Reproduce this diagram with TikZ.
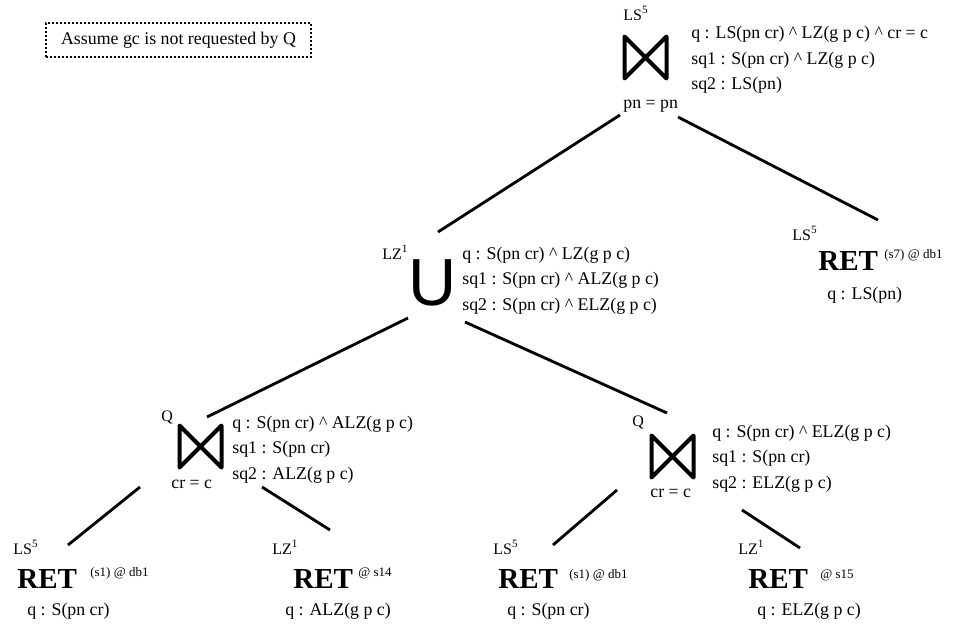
\documentclass[tikz,border=0pt]{standalone}
\usepackage{fontspec}
\setmainfont{Liberation Serif}
\newfontfamily\unionfont{Liberation Sans}
\usetikzlibrary{calc}
\newcommand{\AndOp}{\textasciicircum}
\newcommand{\LS}{LS\textsuperscript{5}}
\newcommand{\LZ}{LZ\textsuperscript{1}}
\tikzset{
  branch/.style   ={line width=1.7pt},
  bowtie/.style   ={minimum width=25.2pt,minimum height=25.2pt,inner sep=0pt,outer sep=0pt},
  tiestroke/.style={line width=2.4pt,line join=round},
  lbl/.style      ={font=\fontsize{10.7}{15.3}\selectfont,inner sep=0pt,anchor=base west,align=left},
  optag/.style    ={font=\fontsize{9.6}{11}\selectfont,inner sep=0pt,anchor=base west},
  retbox/.style   ={font=\fontsize{17.4}{20}\selectfont\bfseries,inner sep=0pt,anchor=base west},
  sitelbl/.style  ={font=\fontsize{7.8}{9}\selectfont,inner sep=0pt,anchor=base west},
  note/.style     ={draw,line width=1.1pt,dash pattern=on 1.2pt off 1.2pt,minimum width=159pt,
                    minimum height=20.4pt,inner sep=0pt,font=\fontsize{10.7}{12}\selectfont},
}

\begin{document}
\begin{tikzpicture}[x=0.6pt,y=-0.6pt]
\useasboundingbox (0,0) rectangle (971,627);
\node[note] (asm) at (178.5,40) {Assume gc is not requested by Q};

% ---- top join (label blocks sit on the baseline of their last line)
\node[optag] (tjt) at (623,20) {\LS};
\node[bowtie] (jtop) at (645.5,57.5) {};
\node[lbl] (cjt) at (623,108) {pn = pn};
\node[lbl] (ljt) at (691,89.5)
 {q : LS(pn cr) \AndOp{} LZ(g p c) \AndOp{} cr = c\\
  sq1 : S(pn cr) \AndOp{} LZ(g p c)\\
  sq2 : LS(pn)};

% ---- union
\node[optag] (tun) at (382,259) {\LZ};
\node[font=\unionfont\fontsize{40}{40}\selectfont,inner sep=0pt,anchor=base] (un) at (432.5,305) {U};
\node[lbl] (lun) at (462,310)
 {q : S(pn cr) \AndOp{} LZ(g p c)\\
  sq1 : S(pn cr) \AndOp{} ALZ(g p c)\\
  sq2 : S(pn cr) \AndOp{} ELZ(g p c)};

% ---- left join
\node[optag] (tjl) at (161,421) {Q};
\node[bowtie] (jl) at (200.5,446.5) {};
\node[lbl] (cjl) at (171,488) {cr = c};
\node[lbl] (ljl) at (232,479)
 {q : S(pn cr) \AndOp{} ALZ(g p c)\\
  sq1 : S(pn cr)\\
  sq2 : ALZ(g p c)};

% ---- right join
\node[optag] (tjr) at (632,426) {Q};
\node[bowtie] (jr) at (672.5,456.5) {};
\node[lbl] (cjr) at (650,497) {cr = c};
\node[lbl] (ljr) at (712,488)
 {q : S(pn cr) \AndOp{} ELZ(g p c)\\
  sq1 : S(pn cr)\\
  sq2 : ELZ(g p c)};

\foreach \b in {jtop,jl,jr}
  \draw[tiestroke] (\b.north west) -- (\b.south east) -- (\b.north east) -- (\b.south west) -- cycle;

% ---- retrievals
\node[optag] (t7) at (792,240) {\LS};
\node[retbox] (r7) at (818,270) {RET};
\node[sitelbl] (s7) at (884,258) {(s7) @ db1};
\node[lbl] (q7) at (827,299) {q : LS(pn)};

\node[optag] (ta) at (13,554) {\LS};
\node[retbox] (ra) at (17,588) {RET};
\node[sitelbl] (sa) at (90,576) {(s1) @ db1};
\node[lbl] (qa) at (27,615) {q : S(pn cr)};

\node[optag] (tb) at (272,554) {\LZ};
\node[retbox] (rb) at (293,588) {RET};
\node[sitelbl] (sb) at (358,576) {@ s14};
\node[lbl] (qb) at (285,615) {q : ALZ(g p c)};

\node[optag] (tc) at (493,554) {\LS};
\node[retbox] (rc) at (498,588) {RET};
\node[sitelbl] (sc) at (569,578) {(s1) @ db1};
\node[lbl] (qc) at (507,615) {q : S(pn cr)};

\node[optag] (td) at (738,554) {\LZ};
\node[retbox] (rd) at (748,588) {RET};
\node[sitelbl] (sd) at (820,578) {@ s15};
\node[lbl] (qd) at (757,615) {q : ELZ(g p c)};

% ---- tree branches
\draw[branch] ($(jtop.center)+(-25.5,57.5)$) -- ($(un.base)+(5.5,-73)$);
\draw[branch] ($(jtop.center)+(32.5,59.5)$) -- ($(r7.base west)+(60,-50)$);
\draw[branch] ($(un.base)+(-24.5,13)$) -- ($(jl.center)+(6.5,-29.5)$);
\draw[branch] ($(un.base)+(32.5,17)$) -- ($(jr.center)+(-5.5,-43.5)$);
\draw[branch] ($(jl.center)+(-60.5,40.5)$) -- ($(ra.base west)+(51,-43)$);
\draw[branch] ($(jl.center)+(61.5,40.5)$) -- ($(rb.base west)+(37,-58)$);
\draw[branch] ($(jr.center)+(-55.5,33.5)$) -- ($(rc.base west)+(55,-43)$);
\draw[branch] ($(jr.center)+(69.5,53.5)$) -- ($(rd.base west)+(52,-40)$);
\end{tikzpicture}
\end{document}
